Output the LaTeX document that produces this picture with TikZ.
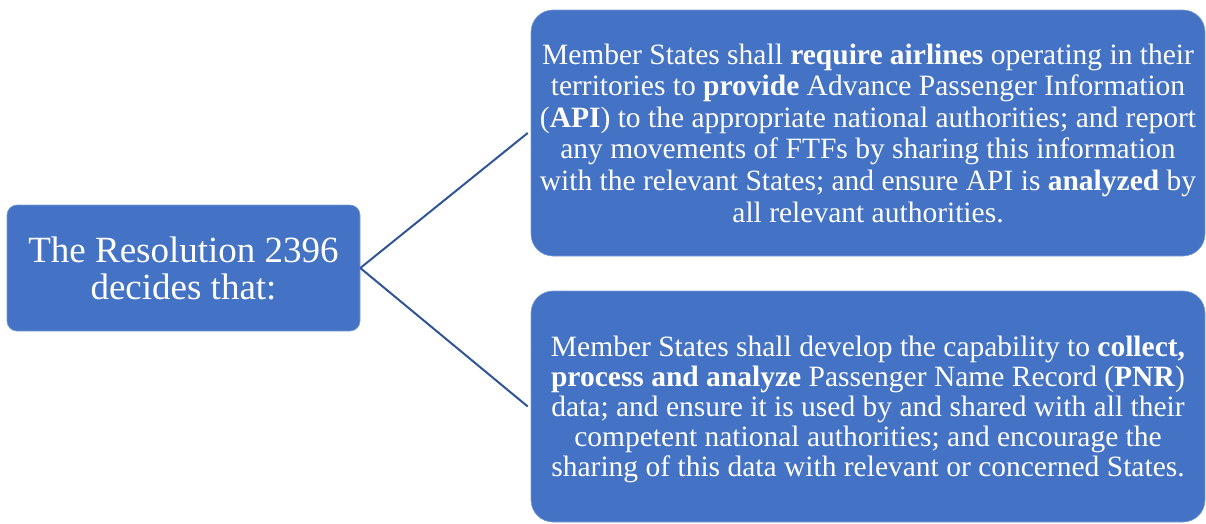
\documentclass[tikz,border=0pt]{standalone}
\usepackage{fontspec}
\setmainfont{Liberation Serif}
\definecolor{boxblue}{HTML}{4472C4}
\definecolor{linkblue}{HTML}{2F5597}
\begin{document}
\begin{tikzpicture}[x=1pt,y=-1pt,
  card/.style={fill=boxblue, draw=boxblue!70!white, line width=0.6pt,
    text=white, align=center, inner sep=0pt},
  link/.style={draw=linkblue, line width=2pt}]
\useasboundingbox (0,0) rectangle (1206,523);
% root box
\node[card, rounded corners=10pt, minimum width=353pt, minimum height=126pt,
  font=\fontsize{37}{37}\selectfont] (root) at (183.5,268)
  {The Resolution 2396\\decides that:};
% API box
\node[card, rounded corners=22pt, minimum width=674pt, minimum height=246pt,
  font=\fontsize{29.5}{31.6}\selectfont] (api) at (868,133)
  {Member States shall \textbf{require airlines} operating in their\\
   territories to \textbf{provide} Advance Passenger Information\\
   (\textbf{API}) to the appropriate national authorities; and report\\
   any movements of FTFs by sharing this information\\
   with the relevant States; and ensure API is \textbf{analyzed} by\\
   all relevant authorities.};
% PNR box (text block sits a little below the centre)
\node[card, rounded corners=22pt, minimum width=674pt, minimum height=231pt,
  font=\fontsize{29.5}{30.2}\selectfont] (pnr) at (868,406.5)
  {\raisebox{0pt}[\dimexpr\height+4pt][\dimexpr\depth-4pt]{\begin{tabular}{@{}c@{}}
   Member States shall develop the capability to \textbf{collect,}\\
   \textbf{process and analyze} Passenger Name Record (\textbf{PNR})\\
   data; and ensure it is used by and shared with all their\\
   competent national authorities; and encourage the\\
   sharing of this data with relevant or concerned States.
   \end{tabular}}};
% connectors
\draw[link] (root.east) -- ([xshift=-3pt]api.west);
\draw[link] (root.east) -- ([xshift=-3pt]pnr.west);
\end{tikzpicture}
\end{document}
